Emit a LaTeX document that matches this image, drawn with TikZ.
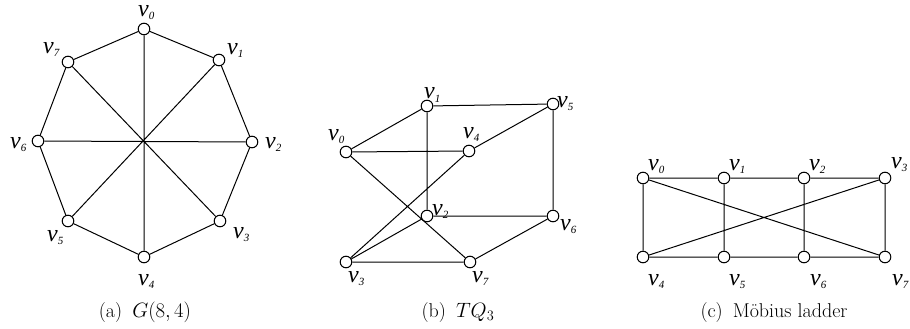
\documentclass[tikz,border=0pt]{standalone}
\usepackage{fontspec}
\newfontfamily\labfont{Liberation Serif}
\newcommand\vlab[1]{\raisebox{0pt}[12pt][4pt]{\labfont\itshape\fontsize{24}{24}\selectfont v\raisebox{-3pt}{\fontsize{11}{11}\selectfont #1}}}
\begin{document}
\begin{tikzpicture}[x=1pt,y=-1pt,
  vtx/.style={circle,draw,fill=white,minimum size=11.6pt,inner sep=0pt,line width=1pt},
  edge/.style={line width=1pt},
  lab/.style={anchor=base west,inner sep=0pt},
  captxt/.style={anchor=base,inner sep=0pt,font=\fontsize{20}{24}\selectfont}]
\useasboundingbox (0,0) rectangle (910,329);

% (a) G(8,4)
\node[vtx] (a0) at (144,29) {};
\node[vtx] (a1) at (219,60) {};
\node[vtx] (a2) at (252,142) {};
\node[vtx] (a3) at (220,221) {};
\node[vtx] (a4) at (144,257) {};
\node[vtx] (a5) at (68,221) {};
\node[vtx] (a6) at (38,141) {};
\node[vtx] (a7) at (68,62) {};
\draw[edge] (a0)--(a1)--(a2)--(a3)--(a4)--(a5)--(a6)--(a7)--(a0);
\draw[edge] (a0)--(a4) (a1)--(a5) (a2)--(a6) (a3)--(a7);
\node[lab] (la0) at (138,17) {\vlab{0}};
\node[lab] (la1) at (227,55) {\vlab{1}};
\node[lab] (la2) at (265,148) {\vlab{2}};
\node[lab] (la3) at (233,238) {\vlab{3}};
\node[lab] (la4) at (138,285) {\vlab{4}};
\node[lab] (la5) at (47,241) {\vlab{5}};
\node[lab] (la6) at (10,148) {\vlab{6}};
\node[lab] (la7) at (43,53) {\vlab{7}};
\node[captxt] (capa) at (145,317) {(a)\enspace$G(8,4)$};

% (b) TQ3
\node[vtx] (b0) at (346,152) {};
\node[vtx] (b1) at (427,106) {};
\node[vtx] (b2) at (427,216) {};
\node[vtx] (b3) at (346,262) {};
\node[vtx] (b4) at (469,151) {};
\node[vtx] (b5) at (553,104) {};
\node[vtx] (b6) at (553,216) {};
\node[vtx] (b7) at (470,262) {};
\draw[edge] (b0)--(b1) (b1)--(b5) (b0)--(b4) (b4)--(b5) (b1)--(b2) (b5)--(b6)
  (b2)--(b6) (b0)--(b7) (b3)--(b4) (b3)--(b2) (b3)--(b7) (b7)--(b6);
\node[lab] (lb0) at (328,140) {\vlab{0}};
\node[lab] (lb1) at (424,99) {\vlab{1}};
\node[lab] (lb2) at (432,215) {\vlab{2}};
\node[lab] (lb3) at (348,282) {\vlab{3}};
\node[lab] (lb4) at (463,138) {\vlab{4}};
\node[lab] (lb5) at (557,107) {\vlab{5}};
\node[lab] (lb6) at (560,230) {\vlab{6}};
\node[lab] (lb7) at (472,282) {\vlab{7}};
\node[captxt] (capb) at (458,317) {(b)\enspace$TQ_3$};

% (c) Mobius ladder
\node[vtx] (c0) at (643,178) {};
\node[vtx] (c1) at (724,178) {};
\node[vtx] (c2) at (804,178) {};
\node[vtx] (c3) at (885,178) {};
\node[vtx] (c4) at (643,257) {};
\node[vtx] (c5) at (724,257) {};
\node[vtx] (c6) at (804,257) {};
\node[vtx] (c7) at (885,257) {};
\draw[edge] (c0)--(c1)--(c2)--(c3) (c4)--(c5)--(c6)--(c7)
  (c0)--(c4) (c1)--(c5) (c2)--(c6) (c3)--(c7) (c0)--(c7) (c3)--(c4);
\node[lab] (lc0) at (648,170) {\vlab{0}};
\node[lab] (lc1) at (729,170) {\vlab{1}};
\node[lab] (lc2) at (809,170) {\vlab{2}};
\node[lab] (lc3) at (891,168) {\vlab{3}};
\node[lab] (lc4) at (648,285) {\vlab{4}};
\node[lab] (lc5) at (729,285) {\vlab{5}};
\node[lab] (lc6) at (810,285) {\vlab{6}};
\node[lab] (lc7) at (892,285) {\vlab{7}};
\node[captxt] (capc) at (774,317) {(c)\enspace Möbius ladder};
\end{tikzpicture}
\end{document}
